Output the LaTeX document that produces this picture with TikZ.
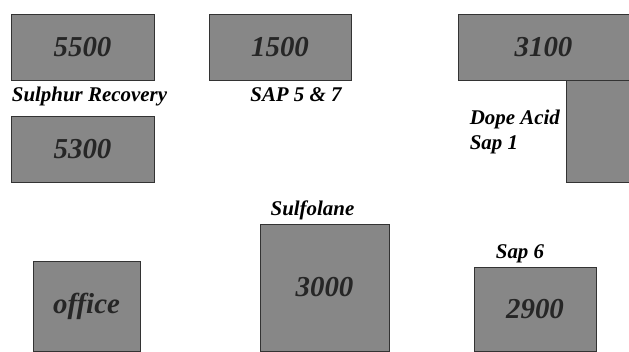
\documentclass[tikz,border=0pt]{standalone}
\usepackage{fontspec}
\setmainfont{Liberation Serif}
\usetikzlibrary{positioning}

\begin{document}
\begin{tikzpicture}
      [x=1bp, y=-1bp, node distance=6bp, text centered,
       area/.style={draw=black!80, thin, fill=black!47, inner sep=0pt, outer sep=0pt,
                    font=\fontsize{29}{30}\selectfont\bfseries\itshape, text=black!85},
       tag/.style={font=\fontsize{21}{26}\selectfont\bfseries\itshape, inner sep=1pt}]

      \useasboundingbox (0,0) rectangle (629,351);

      %areas
      \node[area, minimum width=143bp, minimum height=66bp] (sr1) at (82.5,47) {5500};
      \node[area, minimum width=143bp, minimum height=66bp] (sr2) at (82.5,149) {5300};
      \node[area, minimum width=142bp, minimum height=66bp] (sap57) at (280,47) {1500};
      \node[area, minimum width=171bp, minimum height=66bp] (dope) at (543.5,47) {3100};
      \node[area, minimum width=63bp, minimum height=102bp, anchor=north] (dopeleg) at (597.5,80) {};
      \node[area, minimum width=129bp, minimum height=127bp] (sulf) at (324.5,287.5) {3000};
      \node[area, minimum width=107bp, minimum height=90bp] (office) at (86.5,306) {office};
      \node[area, minimum width=122bp, minimum height=84bp] (sap6) at (535,309) {2900};

      % labels %
      \node[tag, below=6bp of sr1, xshift=7bp] (srlab) {Sulphur Recovery};
      \node[tag, below=6bp of sap57, xshift=16bp] (saplab) {SAP 5 \& 7};
      \node[tag, left=5bp of dopeleg, yshift=-1bp, align=left] (dopelab) {Dope Acid\\Sap 1};
      \node[tag, above=3bp of sulf, xshift=-12bp] (sulflab) {Sulfolane};
      \node[tag, above=3bp of sap6, xshift=-15bp] (sap6lab) {Sap 6};
    \end{tikzpicture}
\end{document}
